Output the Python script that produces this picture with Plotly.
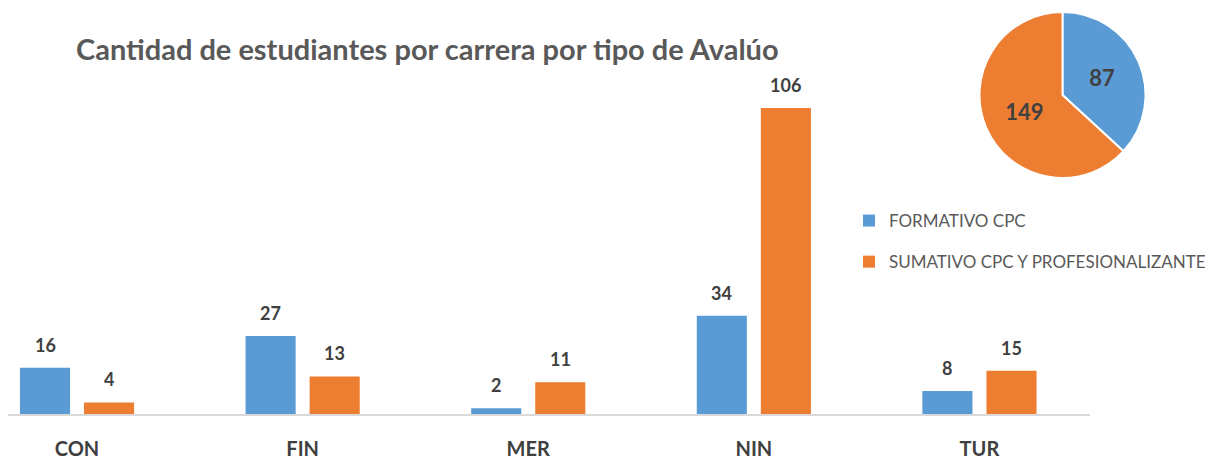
import plotly.graph_objects as go

categories = ["CON", "FIN", "MER", "NIN", "TUR"]
formativo = [16, 27, 2, 34, 8]
sumativo = [4, 13, 11, 106, 15]
series_names = ["FORMATIVO CPC", "SUMATIVO CPC Y PROFESIONALIZANTE"]
pie_values = [87, 149]
title_text = "Cantidad de estudiantes por carrera por tipo de Avalúo"

BLUE = "#5B9BD5"
ORANGE = "#ED7D31"
W, H = 1218, 453
xpos = list(range(len(categories)))

fig = go.Figure()
fig.add_trace(go.Bar(x=xpos, y=formativo, name=series_names[0],
                     marker=dict(color=BLUE, line=dict(width=0)),
                     width=0.222, offset=-0.253, legendgroup="a"))
fig.add_trace(go.Bar(x=xpos, y=sumativo, name=series_names[1],
                     marker=dict(color=ORANGE, line=dict(width=0)),
                     width=0.222, offset=0.031, legendgroup="b"))

fig.add_trace(go.Pie(values=pie_values, labels=series_names,
                     marker=dict(colors=[BLUE, ORANGE], line=dict(color="white", width=2)),
                     sort=False, direction="clockwise", rotation=0,
                     textinfo="value", textposition="inside",
                     insidetextfont=dict(family="Lato", size=22, color="#404040", weight="bold"),
                     showlegend=False, hoverinfo="label+value",
                     domain=dict(x=[970 / W, 1139 / W], y=[1 - 170 / H, 1 - 4 / H])))

ann = []
for vals, dx in ((formativo, -0.142), (sumativo, 0.142)):
    for i, v in enumerate(vals):
        ann.append(dict(x=xpos[i] + dx, y=v, xref="x", yref="y",
                        text=str(v), showarrow=False, yshift=23,
                        font=dict(family="Lato", size=18, color="#404040", weight="bold")))

ann.append(dict(x=66 / W, y=1 - 40 / H, xref="paper", yref="paper", xanchor="left",
                yanchor="middle", text=title_text, showarrow=False,
                font=dict(family="Lato", size=29, color="#595959", weight="bold")))

fig.update_layout(
    width=W, height=H,
    margin=dict(l=0, r=0, t=0, b=0),
    paper_bgcolor="white", plot_bgcolor="white",
    barmode="group",
    annotations=ann,
    xaxis=dict(type="linear", domain=[0, 1082 / W], range=[-0.306, 4.49],
               tickmode="array", tickvals=xpos, ticktext=categories,
               showline=True, linecolor="#D9D9D9", linewidth=2, showgrid=False,
               zeroline=False, ticks="", ticklabelstandoff=16,
               tickfont=dict(family="Lato", size=20, color="#404040", weight="bold")),
    yaxis=dict(domain=[1 - 406 / H, 1 - 52 / H], range=[0, 122.6],
               showticklabels=False, showgrid=False, zeroline=False, showline=False),
    legend=dict(x=841 / W, y=1 - 195 / H, xanchor="left", yanchor="top",
                tracegroupgap=16, font=dict(family="Lato", size=17, color="#595959"),
                bgcolor="rgba(0,0,0,0)", itemwidth=30),
    showlegend=True,
)

fig.write_html("out.html")
